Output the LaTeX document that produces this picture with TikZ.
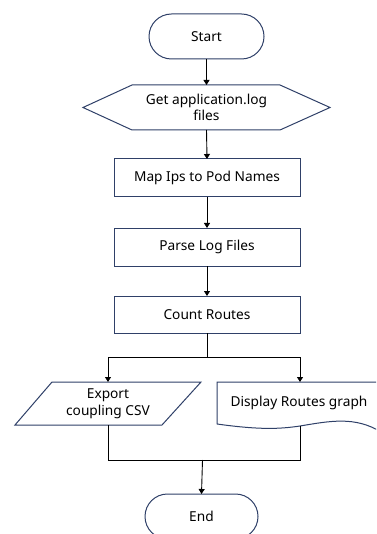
\documentclass[tikz,border=0pt]{standalone}
\usepackage{fontspec}
\setmainfont{Noto Sans}
\usetikzlibrary{arrows.meta}
\definecolor{outl}{HTML}{2F4068}
\tikzset{
  shp/.style={inner sep=0pt, outer sep=0pt, align=center, font=\fontsize{13.7}{16.5}\selectfont},
  rectbox/.style={shp, draw=outl, line width=1pt, minimum width=186pt},
  termbox/.style={shp, draw=outl, line width=1pt, rounded corners=22.5pt, minimum height=45pt},
  outline/.style={draw=outl, line width=1pt},
  conn/.style={draw=black, line width=0.9pt},
  arr/.style={conn, -{Triangle[width=6pt,length=5pt]}}
}
\begin{document}
\begin{tikzpicture}[x=1pt,y=-1pt]
\useasboundingbox (0,0) rectangle (376,534);
\clip (0,0) rectangle (376,534);
\fill[white] (0,0) rectangle (376,534);

\node[termbox, minimum width=115pt] (start) at (206.5,36.5) {Start};
\node[shp, minimum width=247pt, minimum height=45pt] (get) at (206.5,107.5) {Get application.log\\files};
\draw[outline] (get.west) -- ([xshift=49pt]get.north west) -- ([xshift=-50pt]get.north east)
  -- (get.east) -- ([xshift=-50pt]get.south east) -- ([xshift=49pt]get.south west) -- cycle;
\node[rectbox, minimum height=38pt] (map) at (207,178) {Map Ips to Pod Names};
\node[rectbox, minimum height=38pt] (parse) at (207,247) {Parse Log Files};
\node[rectbox, minimum height=37pt] (count) at (207,314.5) {Count Routes};

\node[shp, minimum width=186pt, minimum height=43pt] (export) at (108,403.5) {Export\\coupling CSV};
\draw[outline] ([xshift=37pt]export.north west) -- (export.north east)
  -- ([xshift=-39pt]export.south east) -- (export.south west) -- cycle;

\node[shp, minimum width=164pt, minimum height=42pt] (doc) at (299,403) {Display Routes graph};
\coordinate (docb) at (300,426);
\draw[outline] (doc.south west) -- (doc.north west) -- (doc.north east) -- ([yshift=-8pt]doc.south east)
  .. controls (355,416) and (330,421) .. (docb)
  .. controls (280,429) and (260,430) .. (doc.south west);

\node[termbox, minimum width=113pt] (end) at (201.5,516.5) {End};

\draw[arr] (start.south) -- (get.north);
\draw[arr] (get.south) -- (map.north);
\draw[arr] (map.south) -- (parse.north);
\draw[arr] (parse.south) -- (count.north);
\coordinate (split) at (207,357);
\draw[conn] (count.south) -- (split);
\draw[arr] (split) -| (export.north);
\draw[arr] (split) -| (docb |- doc.north);
\coordinate (join) at (202.5,460);
\draw[conn] (export.south) |- (join);
\draw[conn] (docb) |- (join);
\draw[arr] (join) -- (end.north);
\end{tikzpicture}
\end{document}
